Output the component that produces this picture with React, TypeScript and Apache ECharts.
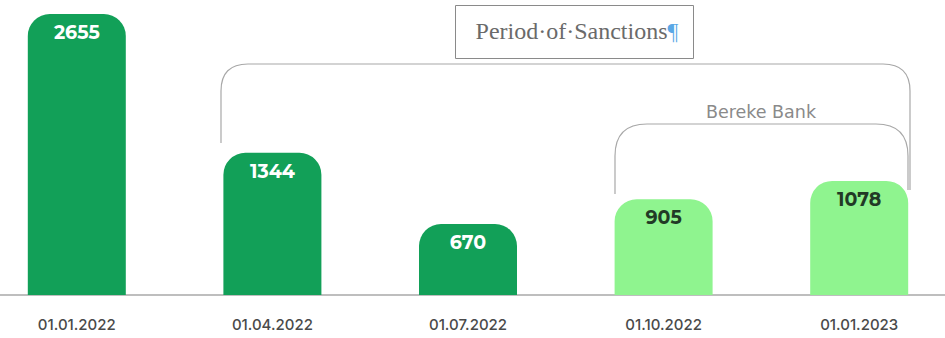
import React, { useEffect, useRef } from "react";
import * as echarts from "echarts";

const categories = ["01.01.2022", "01.04.2022", "01.07.2022", "01.10.2022", "01.01.2023"];
const values = [2655, 1344, 670, 905, 1078];
const isBereke = [false, false, false, true, true];
const titleText = "Period·of·Sanctions";
const bankText = "Bereke Bank";

const DARK = "#12a058";
const LIGHT = "#8ff48f";
const SHIFT = 21; // chart canvas is offset left by this many px

let registered = false;
function registerShapes() {
  if (registered) return;
  registered = true;
  echarts.graphic.registerShape(
    "bigBracket",
    echarts.graphic.extendPath(
      "M0,79 L0,27 Q0,0 27,0 L662,0 Q689,0 689,27 L689,126",
      {}
    )
  );
  echarts.graphic.registerShape(
    "bankBracket",
    echarts.graphic.extendPath(
      "M0,70 L0,32 Q0,0 32,0 L261,0 Q293,0 293,32 L293,66",
      {}
    )
  );
}

export default function App() {
  const ref = useRef<HTMLDivElement>(null);
  useEffect(() => {
    if (!ref.current) return;
    registerShapes();
    const chart = echarts.init(ref.current, undefined, { renderer: "svg" });
    chart.setOption({
      animation: false,
      grid: { left: 0, right: 0, top: 14, bottom: 43 },
      xAxis: {
        type: "category",
        data: categories,
        axisTick: { show: false },
        axisLine: { lineStyle: { color: "#a8a8a8", width: 1.5 } },
        axisLabel: {
          color: "#4a4a4a",
          fontFamily: "Inter, 'Open Sans', sans-serif",
          fontSize: 15,
          fontWeight: 500,
          margin: 22,
        },
      },
      yAxis: {
        type: "value",
        min: 0,
        max: 2655,
        show: false,
        splitLine: { show: false },
      },
      series: [
        {
          type: "bar",
          barWidth: 98,
          data: values.map((v, i) => ({
            value: v,
            itemStyle: {
              color: isBereke[i] ? LIGHT : DARK,
              borderRadius: [22, 22, 0, 0],
            },
            label: { color: isBereke[i] ? "#223a26" : "#ffffff" },
          })),
          label: {
            show: true,
            position: "insideTop",
            distance: 9,
            fontFamily: "Montserrat, Inter, 'Open Sans', sans-serif",
            fontWeight: "bold",
            fontSize: 19,
          },
        },
      ],
      graphic: [
        {
          type: "rect",
          shape: { x: 455.5 + SHIFT, y: 5.5, width: 238, height: 53 },
          style: { fill: "#fff", stroke: "#8a8a8a", lineWidth: 1 },
        },
        {
          type: "text",
          x: 577 + SHIFT,
          y: 31,
          style: {
            text: "{a|" + titleText + "}{b|¶}",
            align: "center",
            verticalAlign: "middle",
            rich: {
              a: {
                fontFamily: "'Liberation Serif', 'DejaVu Serif', serif",
                fontSize: 24,
                fill: "#6a6a6a",
              },
              b: {
                fontFamily: "'Liberation Serif', serif",
                fontSize: 24,
                fill: "#5aa8e6",
              },
            },
          },
        },
        {
          type: "bigBracket",
          x: 221 + SHIFT,
          y: 64,
          style: { fill: "none", stroke: "#a8a8a8", lineWidth: 1.2 },
        },
        {
          type: "bankBracket",
          x: 615 + SHIFT,
          y: 124,
          style: { fill: "none", stroke: "#a8a8a8", lineWidth: 1.2 },
        },
        {
          type: "text",
          x: 761 + SHIFT,
          y: 112,
          style: {
            text: bankText,
            align: "center",
            verticalAlign: "middle",
            fontFamily: "'DejaVu Sans', sans-serif",
            fontSize: 17.5,
            fill: "#8a8a8a",
          },
        },
      ],
    });
    return () => chart.dispose();
  }, []);
  return (
    <div style={{ position: "absolute", left: 0, top: 0, width: 945, height: 338, overflow: "hidden", background: "#fff" }}>
      <div ref={ref} style={{ position: "absolute", left: -SHIFT, top: 0, width: 978, height: 338 }} />
    </div>
  );
}
